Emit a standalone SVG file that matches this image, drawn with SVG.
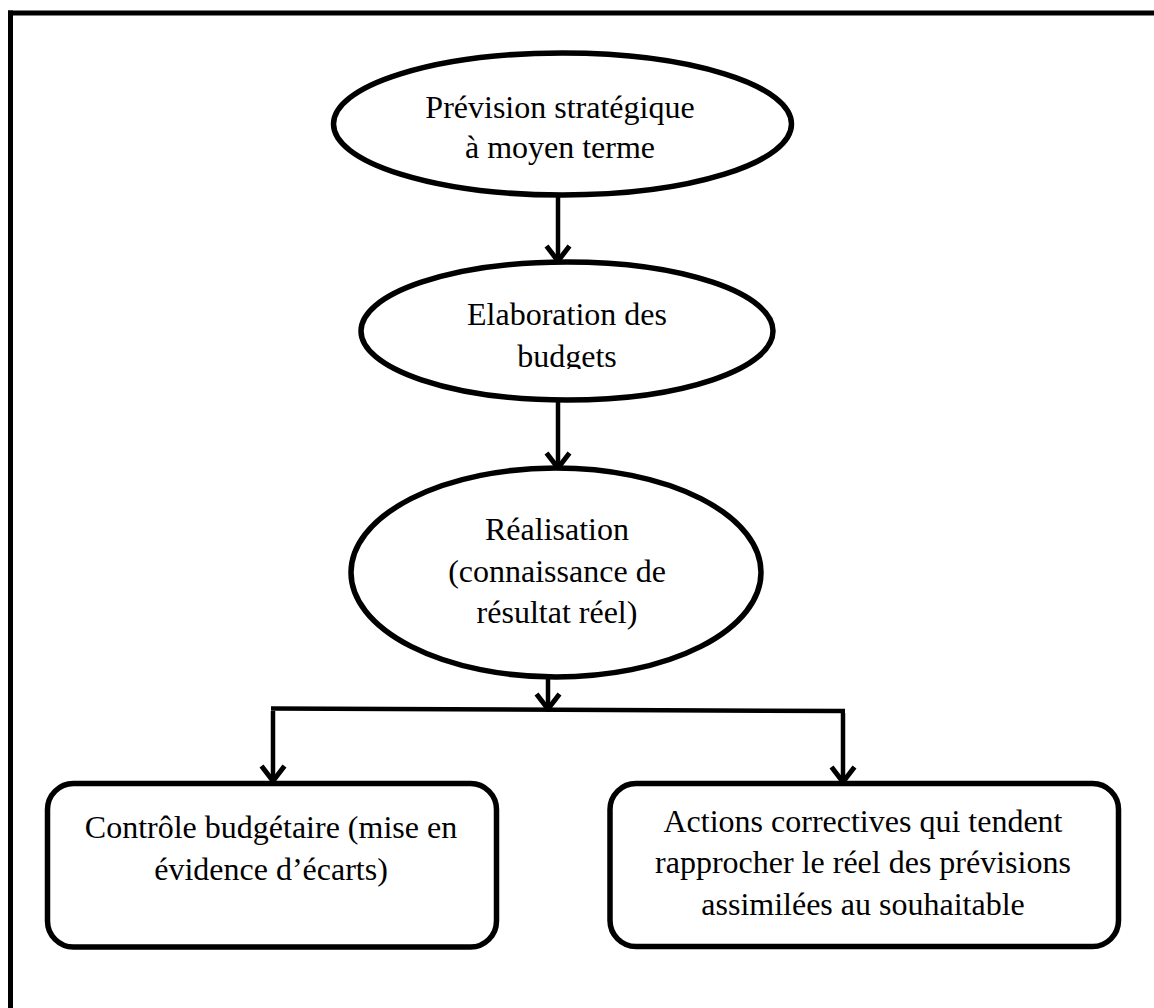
<svg xmlns="http://www.w3.org/2000/svg" width="1154" height="1008" viewBox="0 0 1154 1008">
  <style>
    .frame { fill: none; stroke: #000; stroke-width: 5; }
    .shape { fill: #fff; stroke: #000; stroke-width: 5.5; }
    .link { fill: none; stroke: #000; stroke-width: 4.5; }
    .label { font-size: 32px; fill: #000; text-anchor: middle; }
  </style>
  <defs>
    <!-- open chevron head, drawn along +x so orient="auto" follows the line -->
    <marker id="arrow" viewBox="0 0 22 28" refX="19" refY="14" markerWidth="22" markerHeight="28" markerUnits="userSpaceOnUse" orient="auto">
      <path d="M4 2.5 L19 14 L4 25.5" fill="none" stroke="#000" stroke-width="5" stroke-linejoin="miter"/>
    </marker>
    <clipPath id="clip-budgets">
      <rect x="300" y="250" width="520" height="119"/>
    </clipPath>
  </defs>

  <rect width="1154" height="1008" fill="#fff"/>

  <!-- page frame: top and left edges only -->
  <g id="frame">
    <line class="frame" x1="8" y1="13" x2="1154" y2="13"/>
    <line class="frame" x1="10.5" y1="10.5" x2="10.5" y2="1008"/>
  </g>

  <!-- connectors -->
  <g id="connectors">
    <line class="link" x1="558" y1="196" x2="558" y2="261" marker-end="url(#arrow)"/>
    <line class="link" x1="558" y1="401" x2="558" y2="468" marker-end="url(#arrow)"/>
    <line class="link" x1="548" y1="678" x2="548" y2="709" marker-end="url(#arrow)"/>
    <line class="link" x1="271" y1="708.5" x2="845" y2="711" stroke-width="5"/>
    <line class="link" x1="273" y1="711" x2="273" y2="781" marker-end="url(#arrow)"/>
    <line class="link" x1="843" y1="713" x2="843" y2="782" marker-end="url(#arrow)"/>
  </g>

  <g font-family="'Liberation Serif', 'DejaVu Serif', 'Times New Roman', serif">
    <g id="node-prevision">
      <ellipse class="shape" cx="562.5" cy="124" rx="229" ry="71"/>
      <text class="label" x="560" y="118">Prévision stratégique</text>
      <text class="label" x="560" y="158">à moyen terme</text>
    </g>

    <g id="node-elaboration">
      <ellipse class="shape" cx="567" cy="331" rx="206" ry="69"/>
      <g clip-path="url(#clip-budgets)">
        <text class="label" x="567" y="325">Elaboration des</text>
        <text class="label" x="567" y="367">budgets</text>
      </g>
    </g>

    <g id="node-realisation">
      <ellipse class="shape" cx="556" cy="572.5" rx="205" ry="104.5"/>
      <text class="label" x="557" y="540">Réalisation</text>
      <text class="label" x="557" y="582">(connaissance de</text>
      <text class="label" x="557" y="623">résultat réel)</text>
    </g>

    <g id="node-controle">
      <rect class="shape" x="47.5" y="783.5" width="449" height="163.5" rx="26" ry="26" stroke-width="6"/>
      <text class="label" x="271" y="838">Contrôle budgétaire (mise en</text>
      <text class="label" x="271" y="880">évidence d’écarts)</text>
    </g>

    <g id="node-actions">
      <rect class="shape" x="610" y="783.5" width="508.5" height="163" rx="26" ry="26" stroke-width="6"/>
      <text class="label" x="863" y="832">Actions correctives qui tendent</text>
      <text class="label" x="863" y="873">rapprocher le réel des prévisions</text>
      <text class="label" x="863" y="915">assimilées au souhaitable</text>
    </g>
  </g>
</svg>
